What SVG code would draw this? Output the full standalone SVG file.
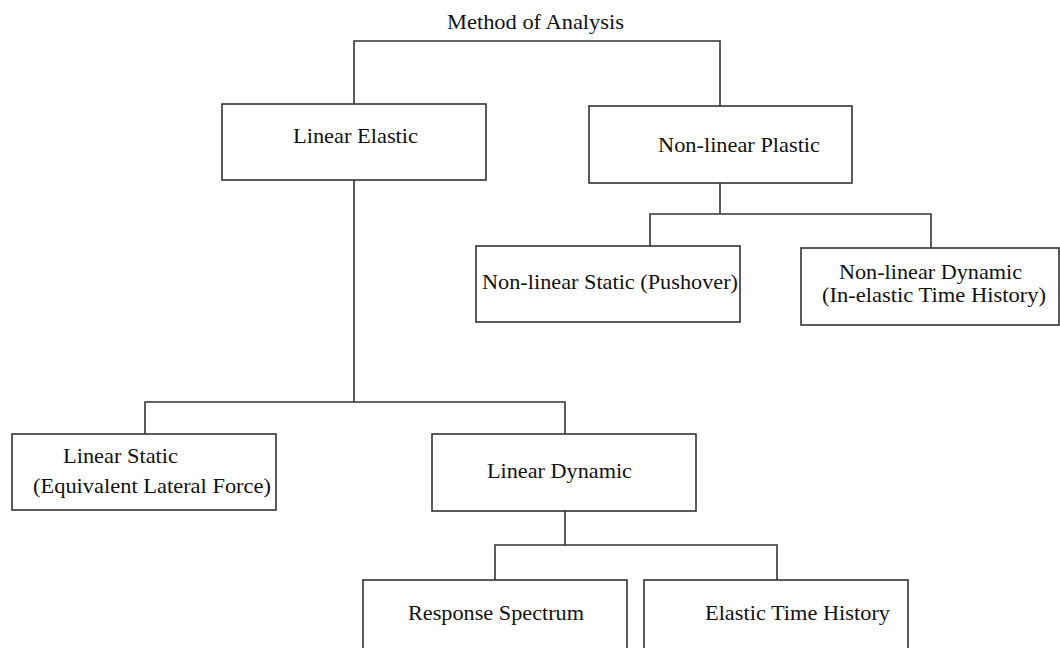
<svg xmlns="http://www.w3.org/2000/svg" width="1060" height="648" viewBox="0 0 1060 648">
<style>
.box{fill:#fff;stroke:#333;stroke-width:1.6}
.ln{fill:none;stroke:#333;stroke-width:1.6}
text{font-family:"Liberation Serif","Times New Roman",serif;font-size:22px;fill:#111}
</style>
<rect width="1060" height="648" fill="#fff"/>
<g id="connectors">
<path class="ln" d="M354,104 V41 H720 V106"/>
<path class="ln" d="M720,183 V214 M650,246 V214 H931 V248"/>
<path class="ln" d="M354,180 V402 M145,434 V402 H565 V434"/>
<path class="ln" d="M565,511 V545 M495,580 V545 H777 V580"/>
</g>
<g id="title"><text x="447" y="29" textLength="177" lengthAdjust="spacingAndGlyphs">Method of Analysis</text></g>
<g id="linear-elastic"><rect class="box" x="222" y="104" width="264" height="76"/><text x="293" y="143" textLength="125" lengthAdjust="spacingAndGlyphs">Linear Elastic</text></g>
<g id="nonlinear-plastic"><rect class="box" x="589" y="106" width="263" height="77"/><text x="658" y="152" textLength="162" lengthAdjust="spacingAndGlyphs">Non-linear Plastic</text></g>
<g id="nonlinear-static"><rect class="box" x="476" y="246" width="264" height="76"/><text x="482" y="289" textLength="256" lengthAdjust="spacingAndGlyphs">Non-linear Static (Pushover)</text></g>
<g id="nonlinear-dynamic"><rect class="box" x="801" y="248" width="258" height="77"/><text x="839" y="279" textLength="183" lengthAdjust="spacingAndGlyphs">Non-linear Dynamic</text><text x="822" y="302" textLength="224" lengthAdjust="spacingAndGlyphs">(In-elastic Time History)</text></g>
<g id="linear-static"><rect class="box" x="12" y="434" width="264" height="76"/><text x="63" y="463" textLength="115" lengthAdjust="spacingAndGlyphs">Linear Static</text><text x="33" y="493" textLength="238" lengthAdjust="spacingAndGlyphs">(Equivalent Lateral Force)</text></g>
<g id="linear-dynamic"><rect class="box" x="432" y="434" width="264" height="77"/><text x="487" y="478" textLength="145" lengthAdjust="spacingAndGlyphs">Linear Dynamic</text></g>
<g id="response-spectrum"><rect class="box" x="363" y="580" width="264" height="90"/><text x="408" y="620" textLength="176" lengthAdjust="spacingAndGlyphs">Response Spectrum</text></g>
<g id="elastic-time-history"><rect class="box" x="644" y="580" width="264" height="90"/><text x="705" y="620" textLength="185" lengthAdjust="spacingAndGlyphs">Elastic Time History</text></g>
</svg>
